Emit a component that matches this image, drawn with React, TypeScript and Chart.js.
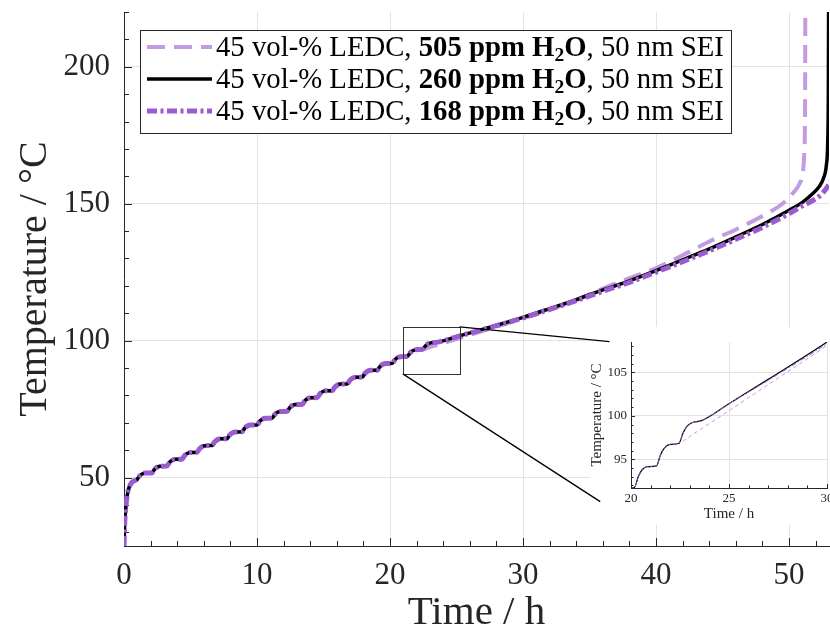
import React, { useEffect, useRef } from 'react';
import { Chart, registerables } from 'chart.js';
Chart.register(...registerables);

const FONT = '"Liberation Serif", "Times New Roman", serif';
const AXIS_COLOR = '#262626';
const GRID_COLOR = '#e2e2e2';

// ---------------- data ----------------
// common part of all three runs (time in h, temperature in °C)
const commonTime = [
  0, 0.05, 0.15, 0.3, 0.5, 0.75,
  0.96, 1.16, 1.36, 1.61,
  2.09, 2.29, 2.49, 2.74,
  3.22, 3.42, 3.62, 3.87,
  4.35, 4.55, 4.75, 5.0,
  5.48, 5.68, 5.88, 6.13,
  6.61, 6.81, 7.01, 7.26,
  7.74, 7.94, 8.14, 8.39,
  8.87, 9.07, 9.27, 9.52,
  10.0, 10.2, 10.4, 10.65,
  11.13, 11.33, 11.53, 11.78,
  12.26, 12.46, 12.66, 12.91,
  13.39, 13.59, 13.79, 14.04,
  14.52, 14.72, 14.92, 15.17,
  15.65, 15.85, 16.05, 16.3,
  16.78, 16.98, 17.18, 17.43,
  17.91, 18.11, 18.31, 18.56,
  19.04, 19.24, 19.44, 19.69,
  20.17, 20.37, 20.57, 20.82,
  21.3, 21.5, 21.7, 21.95,
  22.45,
];
const commonTemp = [
  25, 33, 40, 45, 47.6, 48.8,
  49.2, 50.5, 51.3, 51.65,
  51.7, 53.0, 53.8, 54.15,
  54.2, 55.5, 56.3, 56.65,
  56.7, 58.0, 58.8, 59.15,
  59.2, 60.5, 61.3, 61.65,
  61.7, 63.0, 63.8, 64.15,
  64.2, 65.5, 66.3, 66.65,
  66.7, 68.0, 68.8, 69.15,
  69.2, 70.5, 71.3, 71.65,
  71.7, 73.0, 73.8, 74.15,
  74.2, 75.5, 76.3, 76.65,
  76.7, 78.0, 78.8, 79.15,
  79.2, 80.5, 81.3, 81.65,
  81.7, 83.0, 83.8, 84.15,
  84.2, 85.5, 86.3, 86.65,
  86.7, 88.0, 88.8, 89.15,
  89.2, 90.5, 91.3, 91.65,
  91.75, 93.0, 93.8, 94.15,
  94.25, 95.5, 96.3, 96.7,
  96.85,
];

// 505 ppm H2O
const tail505Time = [23.0, 25, 27, 30, 32, 34, 36, 38, 40, 42, 44, 46, 48, 49.5, 50.3, 50.8, 51.05, 51.15, 51.2, 51.22];
const tail505Temp = [97.65, 100.6, 103.6, 108.1, 111.3, 114.8, 119.0, 122.8, 126.5, 131.2, 136.2, 140.6, 145.5, 150.0, 153.9, 157.5, 162, 170, 185, 222];

// 260 ppm H2O
const tail260Time = [22.65, 22.85, 23.1, 23.6, 25, 27, 30, 32, 34, 36, 38, 40, 42, 44, 46, 48, 50, 51, 51.8, 52.3, 52.6, 52.8, 52.9, 52.95, 52.97];
const tail260Temp = [98.0, 98.8, 99.2, 99.45, 101.4, 104.2, 108.5, 111.7, 115.0, 118.5, 121.8, 125.6, 129.5, 133.5, 137.9, 142.4, 147.6, 150.5, 153.8, 156.5, 159.5, 164, 172, 190, 222];

// 168 ppm H2O
const tail168Time = [22.65, 22.85, 23.1, 23.6, 25, 27, 30, 32, 34, 36, 38, 40, 42, 44, 46, 48, 50, 51, 52, 52.6, 53.2, 53.6];
const tail168Temp = [98.0, 98.8, 99.2, 99.45, 101.4, 104.1, 108.3, 111.4, 114.6, 118.0, 121.3, 125.0, 128.8, 132.8, 137.0, 141.4, 146.4, 149.2, 151.8, 154.3, 158.8, 163];

const seriesLabels = [
  '45 vol-% LEDC, 505 ppm H₂O, 50 nm SEI',
  '45 vol-% LEDC, 260 ppm H₂O, 50 nm SEI',
  '45 vol-% LEDC, 168 ppm H₂O, 50 nm SEI',
];
const legendPrefix = '45 vol-% LEDC, ';
const legendPpm = ['505', '260', '168'];
const legendSuffix = ', 50 nm SEI';

// axes / ticks
const mainXRange = [0, 53];
const mainYRange = [25, 220];
const mainXMajor = [0, 10, 20, 30, 40, 50];
const mainXMinor = [2, 4, 6, 8, 12, 14, 16, 18, 22, 24, 26, 28, 32, 34, 36, 38, 42, 44, 46, 48, 52];
const mainYMajor = [50, 100, 150, 200];
const mainYMinor = [30, 40, 60, 70, 80, 90, 110, 120, 130, 140, 160, 170, 180, 190, 210, 220];

const insetXRange = [20, 30];
const insetYRange = [91.7, 108.5];
const insetXMajor = [20, 25, 30];
const insetXMinor = [21, 22, 23, 24, 26, 27, 28, 29];
const insetYMajor = [95, 100, 105];
const insetYMinor = [92, 93, 94, 96, 97, 98, 99, 101, 102, 103, 104, 106, 107, 108];

// zoom box in the main chart and connector end points (data units)
const zoomBoxTime = [20.96, 25.23];
const zoomBoxTemp = [87.85, 105.0];
const connectorTopEnd = [36.5, 99.6];
const connectorBottomEnd = [35.8, 41.2];

// ---------------- layout ----------------
const W = 830;
const H = 639;
const INSET = { left: 585, top: 327, width: 245, height: 198 };
const INSET_BG = { left: 590, top: 327, width: 240, height: 198 };
const LEGEND_BOX = { left: 140, top: 30, right: 731, bottom: 133 };
const LEGEND_ROWS = [47, 79, 111];
const LEGEND_SAMPLE = [147, 212];
const LEGEND_TEXT = [216, 724];

const STYLES = [
  { color: '#c29be0', width: 4, dash: [18, 9], insetWidth: 1, insetDash: [4, 3], order: 3 },
  { color: '#000000', width: 3.5, dash: [] as number[], insetWidth: 1.2, insetDash: [] as number[], order: 2 },
  { color: '#9b5bd1', width: 5, dash: [10, 3.5, 3, 3.5], insetWidth: 1, insetDash: [5, 2, 1.5, 2], order: 1 },
];

const zip = (ts: number[], ys: number[]) => ts.map((t, i) => ({ x: t, y: ys[i] }));
const seriesData = [
  zip([...commonTime, ...tail505Time], [...commonTemp, ...tail505Temp]),
  zip([...commonTime, ...tail260Time], [...commonTemp, ...tail260Temp]),
  zip([...commonTime, ...tail168Time], [...commonTemp, ...tail168Temp]),
];

function makeDatasets(inset: boolean) {
  return seriesData.map((data, i) => {
    const s = STYLES[i];
    return {
      label: seriesLabels[i],
      data,
      borderColor: s.color,
      backgroundColor: s.color,
      borderWidth: inset ? s.insetWidth : s.width,
      borderDash: inset ? s.insetDash : s.dash,
      borderCapStyle: 'butt' as const,
      borderJoinStyle: 'round' as const,
      pointRadius: 0,
      fill: false,
      cubicInterpolationMode: 'monotone' as const,
      order: s.order,
    };
  });
}

function makeTickPlugin(cfg: { xMajor: number[]; xMinor: number[]; yMajor: number[]; yMinor: number[]; major: number; minor: number }) {
  return {
    id: 'insideTicks',
    beforeDatasetsDraw(chart: any) {
      const { ctx, chartArea: a } = chart;
      const xs = chart.scales.x;
      const ys = chart.scales.y;
      ctx.save();
      ctx.strokeStyle = AXIS_COLOR;
      ctx.lineWidth = 1;
      ctx.beginPath();
      const xt = (v: number, len: number) => {
        const px = Math.round(xs.getPixelForValue(v)) + 0.5;
        ctx.moveTo(px, a.bottom);
        ctx.lineTo(px, a.bottom - len);
      };
      const yt = (v: number, len: number) => {
        const py = Math.round(ys.getPixelForValue(v)) + 0.5;
        ctx.moveTo(a.left, py);
        ctx.lineTo(a.left + len, py);
      };
      cfg.xMajor.forEach((v) => xt(v, cfg.major));
      cfg.xMinor.forEach((v) => xt(v, cfg.minor));
      cfg.yMajor.forEach((v) => yt(v, cfg.major));
      cfg.yMinor.forEach((v) => yt(v, cfg.minor));
      ctx.stroke();
      ctx.restore();
    },
  };
}

const overlayPlugin = {
  id: 'zoomOverlay',
  afterDatasetsDraw(chart: any) {
    const { ctx } = chart;
    const xs = chart.scales.x;
    const ys = chart.scales.y;
    ctx.save();
    // white background for the inset
    ctx.fillStyle = '#ffffff';
    ctx.fillRect(INSET_BG.left, INSET_BG.top, INSET_BG.width, INSET_BG.height);
    // zoom box
    const x0 = xs.getPixelForValue(zoomBoxTime[0]);
    const x1 = xs.getPixelForValue(zoomBoxTime[1]);
    const y0 = ys.getPixelForValue(zoomBoxTemp[1]);
    const y1 = ys.getPixelForValue(zoomBoxTemp[0]);
    ctx.strokeStyle = '#333333';
    ctx.lineWidth = 1;
    ctx.strokeRect(Math.round(x0) + 0.5, Math.round(y0) + 0.5, Math.round(x1 - x0), Math.round(y1 - y0));
    // connectors
    ctx.strokeStyle = '#000000';
    ctx.lineWidth = 1.3;
    ctx.beginPath();
    ctx.moveTo(x1, y0);
    ctx.lineTo(xs.getPixelForValue(connectorTopEnd[0]), ys.getPixelForValue(connectorTopEnd[1]));
    ctx.moveTo(x0, y1);
    ctx.lineTo(xs.getPixelForValue(connectorBottomEnd[0]), ys.getPixelForValue(connectorBottomEnd[1]));
    ctx.stroke();
    ctx.restore();
  },
};

function legendSegments(ppm: string, size: number) {
  return [
    { font: `${size}px ${FONT}`, text: legendPrefix, dy: 0 },
    { font: `bold ${size}px ${FONT}`, text: `${ppm} ppm H`, dy: 0 },
    { font: `bold ${size * 0.68}px ${FONT}`, text: '2', dy: size * 0.15 },
    { font: `bold ${size}px ${FONT}`, text: 'O', dy: 0 },
    { font: `${size}px ${FONT}`, text: legendSuffix, dy: 0 },
  ];
}

const legendPlugin = {
  id: 'richLegend',
  afterDraw(chart: any) {
    const { ctx } = chart;
    ctx.save();
    const b = LEGEND_BOX;
    ctx.fillStyle = '#ffffff';
    ctx.fillRect(b.left, b.top, b.right - b.left, b.bottom - b.top);
    ctx.strokeStyle = AXIS_COLOR;
    ctx.lineWidth = 1;
    ctx.strokeRect(b.left + 0.5, b.top + 0.5, b.right - b.left, b.bottom - b.top);
    // font size so that the text fits the measured width
    const measure = (size: number) => {
      let w = 0;
      for (const s of legendSegments(legendPpm[0], size)) {
        ctx.font = s.font;
        w += ctx.measureText(s.text).width;
      }
      return w;
    };
    const size = 22 * (LEGEND_TEXT[1] - LEGEND_TEXT[0]) / measure(22);
    LEGEND_ROWS.forEach((cy, i) => {
      const st = STYLES[i];
      ctx.strokeStyle = st.color;
      ctx.lineWidth = st.width;
      ctx.setLineDash(st.dash);
      ctx.lineCap = 'butt';
      ctx.beginPath();
      ctx.moveTo(LEGEND_SAMPLE[0], cy);
      ctx.lineTo(LEGEND_SAMPLE[1], cy);
      ctx.stroke();
      ctx.setLineDash([]);
      ctx.fillStyle = '#000000';
      ctx.textBaseline = 'alphabetic';
      ctx.textAlign = 'left';
      let x = LEGEND_TEXT[0];
      const base = cy + size * 0.33;
      for (const s of legendSegments(legendPpm[i], size)) {
        ctx.font = s.font;
        ctx.fillText(s.text, x, base + s.dy);
        x += ctx.measureText(s.text).width;
      }
    });
    ctx.restore();
  },
};

function mainConfig(): any {
  return {
    type: 'line',
    data: { datasets: makeDatasets(false) },
    plugins: [
      makeTickPlugin({ xMajor: mainXMajor, xMinor: mainXMinor, yMajor: mainYMajor, yMinor: mainYMinor, major: 8, minor: 5 }),
      overlayPlugin,
      legendPlugin,
    ],
    options: {
      responsive: false,
      animation: false,
      events: [],
      layout: { padding: { top: 12, right: 1, left: 0, bottom: 0 } },
      plugins: { legend: { display: false }, tooltip: { enabled: false } },
      scales: {
        x: {
          type: 'linear',
          min: mainXRange[0],
          max: mainXRange[1],
          afterBuildTicks: (s: any) => { s.ticks = mainXMajor.map((v) => ({ value: v })); },
          afterFit: (s: any) => { s.height = 93; s.paddingLeft = 0; s.paddingRight = 0; },
          ticks: { font: { family: FONT, size: 31 }, color: AXIS_COLOR, padding: 11, maxRotation: 0, autoSkip: false },
          grid: { color: GRID_COLOR, drawTicks: false, lineWidth: 1 },
          border: { display: true, color: AXIS_COLOR, width: 1 },
          title: { display: true, text: 'Time / h', font: { family: FONT, size: 41 }, color: AXIS_COLOR, padding: { top: 0, bottom: 1 } },
        },
        y: {
          type: 'linear',
          min: mainYRange[0],
          max: mainYRange[1],
          afterBuildTicks: (s: any) => { s.ticks = mainYMajor.map((v) => ({ value: v })); },
          afterFit: (s: any) => { s.width = 124; s.paddingTop = 0; s.paddingBottom = 0; },
          ticks: { font: { family: FONT, size: 31 }, color: AXIS_COLOR, padding: 14, autoSkip: false },
          grid: { color: GRID_COLOR, drawTicks: false, lineWidth: 1 },
          border: { display: true, color: AXIS_COLOR, width: 1 },
          title: { display: true, text: 'Temperature / °C', font: { family: FONT, size: 40 }, color: AXIS_COLOR, padding: { top: 11, bottom: 0 } },
        },
      },
    },
  };
}

function insetConfig(): any {
  return {
    type: 'line',
    data: { datasets: makeDatasets(true) },
    plugins: [
      makeTickPlugin({ xMajor: insetXMajor, xMinor: insetXMinor, yMajor: insetYMajor, yMinor: insetYMinor, major: 4, minor: 2.5 }),
    ],
    options: {
      responsive: false,
      animation: false,
      events: [],
      layout: { padding: { top: 15, right: 3, left: 0, bottom: 0 } },
      plugins: { legend: { display: false }, tooltip: { enabled: false } },
      scales: {
        x: {
          type: 'linear',
          min: insetXRange[0],
          max: insetXRange[1],
          afterBuildTicks: (s: any) => { s.ticks = insetXMajor.map((v) => ({ value: v })); },
          afterFit: (s: any) => { s.height = 37; s.paddingLeft = 0; s.paddingRight = 0; },
          ticks: { font: { family: FONT, size: 13 }, color: AXIS_COLOR, padding: 3, maxRotation: 0, autoSkip: false },
          grid: { color: GRID_COLOR, drawTicks: false, lineWidth: 1 },
          border: { display: true, color: AXIS_COLOR, width: 1 },
          title: { display: true, text: 'Time / h', font: { family: FONT, size: 15 }, color: AXIS_COLOR, padding: { top: 0, bottom: 2 } },
        },
        y: {
          type: 'linear',
          min: insetYRange[0],
          max: insetYRange[1],
          afterBuildTicks: (s: any) => { s.ticks = insetYMajor.map((v) => ({ value: v })); },
          afterFit: (s: any) => { s.width = 46; s.paddingTop = 0; s.paddingBottom = 0; },
          ticks: { font: { family: FONT, size: 13 }, color: AXIS_COLOR, padding: 4, autoSkip: false },
          grid: { color: GRID_COLOR, drawTicks: false, lineWidth: 1 },
          border: { display: true, color: AXIS_COLOR, width: 1 },
          title: { display: true, text: 'Temperature / °C', font: { family: FONT, size: 15 }, color: AXIS_COLOR, padding: { top: 3, bottom: 0 } },
        },
      },
    },
  };
}

export default function App() {
  const mainRef = useRef<HTMLCanvasElement>(null);
  const insetRef = useRef<HTMLCanvasElement>(null);
  useEffect(() => {
    const main = new Chart(mainRef.current as HTMLCanvasElement, mainConfig());
    const inset = new Chart(insetRef.current as HTMLCanvasElement, insetConfig());
    return () => {
      main.destroy();
      inset.destroy();
    };
  }, []);
  return (
    <div style={{ position: 'fixed', left: 0, top: 0, width: W, height: H, background: '#ffffff' }}>
      <canvas ref={mainRef} width={W} height={H} style={{ position: 'absolute', left: 0, top: 0 }} />
      <canvas
        ref={insetRef}
        width={INSET.width}
        height={INSET.height}
        style={{ position: 'absolute', left: INSET.left, top: INSET.top }}
      />
    </div>
  );
}
